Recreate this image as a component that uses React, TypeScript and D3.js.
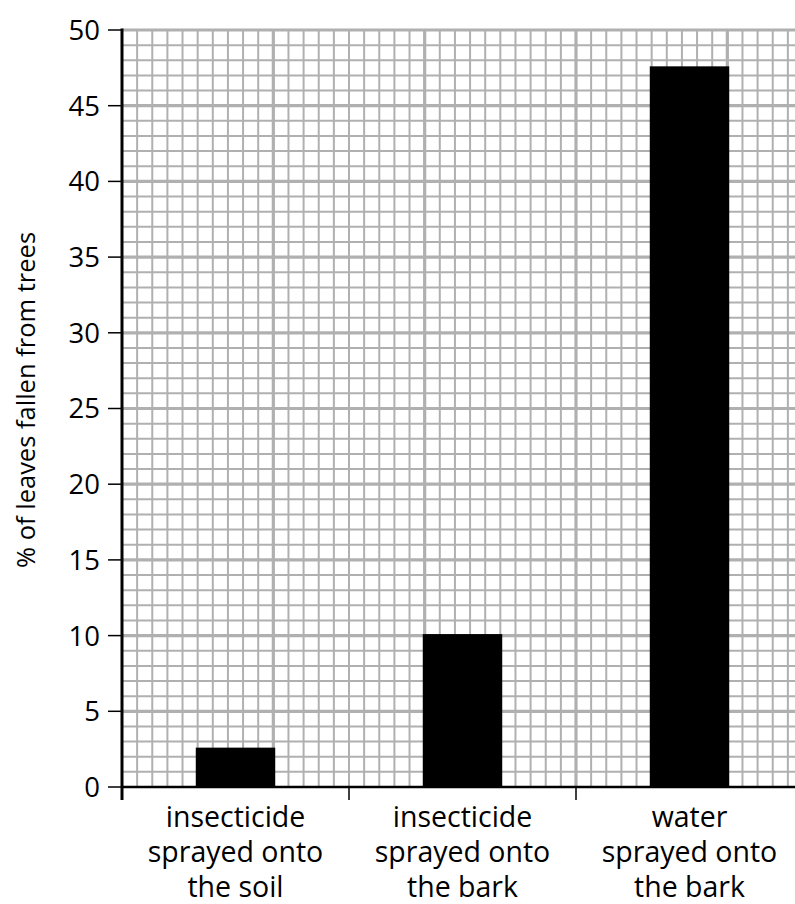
import { useEffect, useRef } from 'react';
import * as d3 from 'd3';

// chart values
const categories = ['soil', 'bark', 'water'];
const labelLines = [
  ['insecticide', 'sprayed onto', 'the soil'],
  ['insecticide', 'sprayed onto', 'the bark'],
  ['water', 'sprayed onto', 'the bark'],
];
const leavesFallen = [2.6, 10.1, 47.6];
const yTicks = [0, 5, 10, 15, 20, 25, 30, 35, 40, 45, 50];
const yTitle = '% of leaves fallen from trees';

const width = 795;
const height = 904;
const font = '"Open Sans", "Noto Sans", sans-serif';

const App = () => {
  const ref = useRef<SVGSVGElement>(null);

  useEffect(() => {
    const svg = d3.select(ref.current);
    svg.selectAll('*').remove();

    const left = 122;
    const right = 803; // 3 categories of 15 grid cells each
    const top = 30;
    const bottom = 787;

    const y = d3.scaleLinear().domain([0, 50]).range([bottom, top]);
    const x = d3.scaleBand().domain(categories).range([left, right]);
    // grid cells: 15 per category band
    const gx = d3.scaleLinear().domain([0, 45]).range([left, right]);

    const grid = svg.append('g');
    // vertical grid lines, run to the edge of the picture
    const vCells = d3.range(1, 45);
    grid.selectAll('line.v')
      .data(vCells)
      .enter()
      .append('line')
      .attr('x1', (d) => gx(d))
      .attr('x2', (d) => gx(d))
      .attr('y1', top)
      .attr('y2', bottom)
      .attr('stroke', '#b0b0b0')
      .attr('stroke-width', (d) => (d % 10 === 0 ? 3.2 : 2));

    // horizontal grid lines every 1 unit
    const hCells = d3.range(1, 51);
    grid.selectAll('line.h')
      .data(hCells)
      .enter()
      .append('line')
      .attr('x1', left)
      .attr('x2', width)
      .attr('y1', (d) => y(d))
      .attr('y2', (d) => y(d))
      .attr('stroke', '#b0b0b0')
      .attr('stroke-width', (d) => (d % 5 === 0 ? 3.2 : 2));

    // bars
    const barW = x.bandwidth() * 0.35;
    svg.append('g')
      .selectAll('rect')
      .data(leavesFallen)
      .enter()
      .append('rect')
      .attr('x', (d, i) => (x(categories[i]) as number) + x.bandwidth() / 2 - barW / 2)
      .attr('y', (d) => y(d))
      .attr('width', barW)
      .attr('height', (d) => y(0) - y(d))
      .attr('fill', '#000');

    // x axis
    svg.append('line')
      .attr('x1', left)
      .attr('x2', width)
      .attr('y1', bottom)
      .attr('y2', bottom)
      .attr('stroke', '#000')
      .attr('stroke-width', 2.5);

    svg.append('g')
      .selectAll('line')
      .data(categories.slice(1))
      .enter()
      .append('line')
      .attr('x1', (d) => x(d) as number)
      .attr('x2', (d) => x(d) as number)
      .attr('y1', bottom)
      .attr('y2', bottom + 13)
      .attr('stroke', '#000')
      .attr('stroke-width', 1.5);

    const labels = svg.append('g')
      .attr('font-family', font)
      .attr('font-size', 28.5)
      .attr('fill', '#000')
      .attr('text-anchor', 'middle');
    labelLines.forEach((lines, i) => {
      const cx = (x(categories[i]) as number) + x.bandwidth() / 2;
      lines.forEach((t, j) => {
        labels.append('text')
          .attr('x', cx)
          .attr('y', 827 + j * 35)
          .text(t);
      });
    });

    // y axis
    svg.append('line')
      .attr('x1', left)
      .attr('x2', left)
      .attr('y1', top - 1.5)
      .attr('y2', bottom + 13)
      .attr('stroke', '#000')
      .attr('stroke-width', 3);

    const yAxis = svg.append('g');
    yAxis.selectAll('line')
      .data(yTicks)
      .enter()
      .append('line')
      .attr('x1', left - 14)
      .attr('x2', left)
      .attr('y1', (d) => y(d))
      .attr('y2', (d) => y(d))
      .attr('stroke', '#000')
      .attr('stroke-width', 1.5);
    yAxis.selectAll('text')
      .data(yTicks)
      .enter()
      .append('text')
      .attr('x', left - 22)
      .attr('y', (d) => y(d))
      .attr('dy', '0.36em')
      .attr('text-anchor', 'end')
      .attr('font-family', font)
      .attr('font-size', 27.5)
      .attr('fill', '#000')
      .text((d) => String(d));

    svg.append('text')
      .attr('transform', 'translate(35, 400) rotate(-90)')
      .attr('text-anchor', 'middle')
      .attr('font-family', font)
      .attr('font-size', 25.5)
      .attr('fill', '#000')
      .text(yTitle);
  }, []);

  return (
    <svg
      ref={ref}
      width={width}
      height={height}
      style={{ position: 'absolute', left: 0, top: 0, background: '#fff' }}
    />
  );
};

export default App;
